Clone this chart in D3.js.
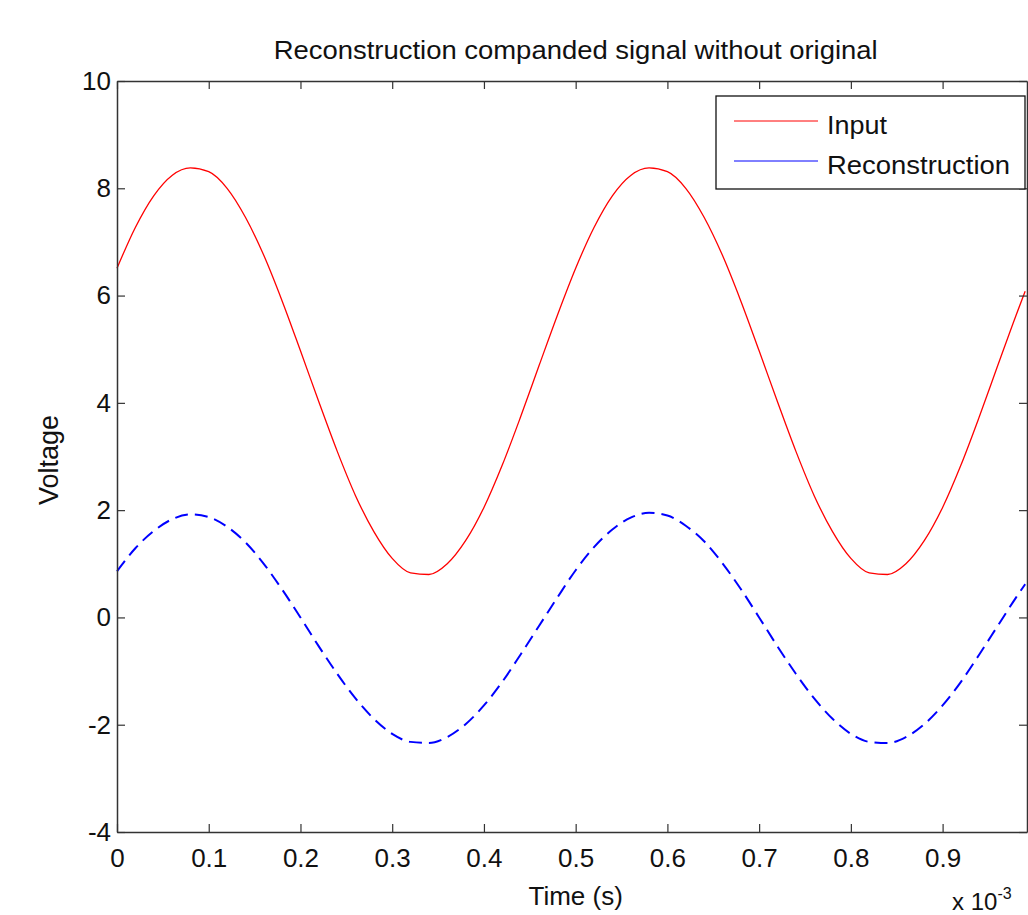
<!DOCTYPE html>
<html>
<head>
<meta charset="utf-8">
<script src="https://cdn.jsdelivr.net/npm/d3@7"></script>
<style>
  body { margin: 0; background: #fff; }
  text { font-family: "Liberation Sans", Arial, sans-serif; fill: #111; }
</style>
</head>
<body>
<div id="chart"></div>
<script>
// time samples (s, axis shown x 10^-3)
const time = [0, 0.02, 0.04, 0.06, 0.08, 0.10, 0.12, 0.14, 0.16, 0.18,
    0.20, 0.22, 0.24, 0.26, 0.28, 0.30, 0.32, 0.34, 0.36, 0.38,
    0.40, 0.42, 0.44, 0.46, 0.48, 0.50, 0.52, 0.54, 0.56, 0.58,
    0.60, 0.62, 0.64, 0.66, 0.68, 0.70, 0.72, 0.74, 0.76, 0.78,
    0.80, 0.82, 0.84, 0.86, 0.88, 0.90, 0.92, 0.94, 0.96, 0.98, 0.99]

const inputValues = [6.51, 7.27, 7.86, 8.24, 8.38, 8.31, 8.00, 7.46, 6.75, 5.90,
    4.97, 4.02, 3.10, 2.27, 1.60, 1.10, 0.83, 0.80, 1.00, 1.43,
    2.05, 2.84, 3.74, 4.69, 5.63, 6.51, 7.27, 7.86, 8.24, 8.38,
    8.31, 8.00, 7.46, 6.75, 5.90, 4.97, 4.02, 3.10, 2.27, 1.60,
    1.10, 0.83, 0.80, 1.00, 1.43, 2.05, 2.84, 3.74, 4.69, 5.63, 6.08]

const reconValues = [0.86, 1.29, 1.61, 1.83, 1.92, 1.87, 1.69, 1.40, 1.00, 0.52,
    0.00, -0.54, -1.05, -1.51, -1.89, -2.17, -2.32, -2.34, -2.23, -1.99,
    -1.64, -1.20, -0.69, -0.16, 0.37, 0.88, 1.31, 1.64, 1.86, 1.95,
    1.90, 1.71, 1.42, 1.01, 0.53, 0.00, -0.54, -1.05, -1.51, -1.89,
    -2.17, -2.32, -2.34, -2.23, -1.99, -1.64, -1.20, -0.69, -0.16, 0.37, 0.62]

const xTicks = [0, 0.1, 0.2, 0.3, 0.4, 0.5, 0.6, 0.7, 0.8, 0.9]
const yTicks = [-4, -2, 0, 2, 4, 6, 8, 10]

const seriesNames = ['Input', 'Reconstruction']
const seriesColors = ['#ff0000', '#0000ff']
const legendTextWidths = [60, 183]

const width = 1028, height = 915
const margin = {top: 81, right: 1, bottom: 83, left: 117}
const innerW = width - margin.left - margin.right
const innerH = height - margin.top - margin.bottom

const svg = d3.select('#chart')
    .append('svg')
    .attr('width', width)
    .attr('height', height)

const x = d3.scaleLinear().domain([0, 0.992]).range([0, innerW])
const y = d3.scaleLinear().domain([-4, 10]).range([innerH, 0])

const g = svg.append('g')
    .attr('transform', `translate(${margin.left},${margin.top})`)

// curves
const line = d3.line()
    .x(d => x(d[0]))
    .y(d => y(d[1]))
    .curve(d3.curveMonotoneX)

g.append('path')
    .datum(d3.zip(time, inputValues))
    .attr('d', line)
    .attr('fill', 'none')
    .attr('stroke', seriesColors[0])
    .attr('stroke-width', 1.3)

g.append('path')
    .datum(d3.zip(time, reconValues))
    .attr('d', line)
    .attr('fill', 'none')
    .attr('stroke', seriesColors[1])
    .attr('stroke-width', 2)
    .attr('stroke-dasharray', '13,7')

// axes, matlab style: inward ticks on all sides
const tickLen = 8
const axisColor = '#333'
const fmt = d => d === 0 ? '0' : (Number.isInteger(d) ? String(d) : d3.format('.1f')(d))

g.append('g')
    .attr('transform', `translate(0,${innerH})`)
    .call(d3.axisBottom(x).tickValues(xTicks).tickSizeInner(-tickLen).tickSizeOuter(0).tickPadding(17)
        .tickFormat(fmt))
g.append('g')
    .call(d3.axisTop(x).tickValues(xTicks).tickSizeInner(-tickLen).tickSizeOuter(0).tickFormat(''))
g.append('g')
    .call(d3.axisLeft(y).tickValues(yTicks).tickSizeInner(-tickLen).tickSizeOuter(0).tickPadding(6)
        .tickFormat(fmt))
g.append('g')
    .attr('transform', `translate(${innerW},0)`)
    .call(d3.axisRight(y).tickValues(yTicks).tickSizeInner(-tickLen).tickSizeOuter(0).tickFormat(''))

g.selectAll('.domain').attr('stroke', axisColor).attr('stroke-width', 1.5)
g.selectAll('.tick line').attr('stroke', axisColor).attr('stroke-width', 1.2)
g.selectAll('.tick text')
    .style('font-family', '"Liberation Sans", Arial, sans-serif')
    .style('font-size', '26px')
    .attr('fill', '#111')

// titles
svg.append('text')
    .attr('x', margin.left + x(0.5))
    .attr('y', 59)
    .attr('text-anchor', 'middle')
    .attr('textLength', 604)
    .attr('lengthAdjust', 'spacingAndGlyphs')
    .style('font-size', '25px')
    .text('Reconstruction companded signal without original')

svg.append('text')
    .attr('x', margin.left + x(0.5))
    .attr('y', 905)
    .attr('text-anchor', 'middle')
    .style('font-size', '26px')
    .text('Time (s)')

svg.append('text')
    .attr('transform', `translate(58,460) rotate(-90)`)
    .attr('text-anchor', 'middle')
    .style('font-size', '27px')
    .text('Voltage')

// axis multiplier, kept inside the frame
const expo = svg.append('text')
    .attr('x', 952)
    .attr('y', 910)
    .style('font-size', '24px')
expo.append('tspan').text('x 10')
expo.append('tspan').attr('dy', -11).style('font-size', '16px').text('-3')

// legend
const legend = svg.append('g').attr('transform', 'translate(716,96)')
legend.append('rect')
    .attr('width', 309)
    .attr('height', 93)
    .attr('fill', '#fff')
    .attr('stroke', '#111')
    .attr('stroke-width', 1.3)

seriesNames.forEach((name, i) => {
    const ly = 25 + i * 40
    legend.append('line')
        .attr('x1', 18).attr('x2', 102)
        .attr('y1', ly).attr('y2', ly)
        .attr('stroke', seriesColors[i])
        .attr('stroke-width', 1)
    legend.append('text')
        .attr('x', 111)
        .attr('y', ly + 13)
        .attr('textLength', legendTextWidths[i])
        .attr('lengthAdjust', 'spacingAndGlyphs')
        .style('font-size', '26px')
        .text(name)
})
</script>
</body>
</html>
